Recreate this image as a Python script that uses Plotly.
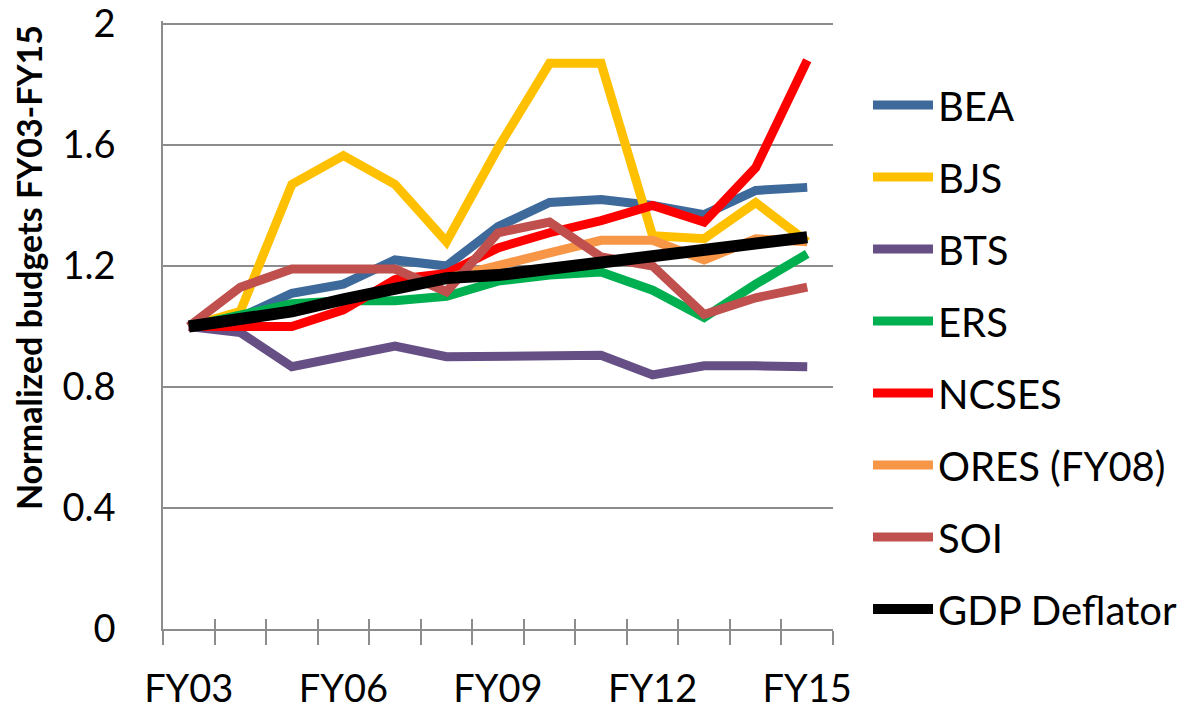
import plotly.graph_objects as go

categories = ["FY03", "FY04", "FY05", "FY06", "FY07", "FY08", "FY09",
              "FY10", "FY11", "FY12", "FY13", "FY14", "FY15"]
label_years = ["FY03", "FY06", "FY09", "FY12", "FY15"]

bea = [1.00, 1.03, 1.11, 1.14, 1.22, 1.20, 1.33, 1.41, 1.42, 1.40, 1.37, 1.45, 1.46]
bjs = [1.00, 1.05, 1.47, 1.565, 1.47, 1.28, 1.59, 1.87, 1.87, 1.30, 1.29, 1.41, 1.28]
bts = [1.00, 0.98, 0.867, 0.90, 0.935, 0.90, 0.90, 0.90, 0.905, 0.84, 0.87, 0.87, 0.867]
ers = [1.00, 1.04, 1.075, 1.085, 1.085, 1.10, 1.15, 1.17, 1.18, 1.12, 1.03, 1.14, 1.24]
ncses = [1.00, 1.00, 1.00, 1.055, 1.155, 1.175, 1.26, 1.31, 1.35, 1.40, 1.345, 1.525, 1.88]
ores = [None, None, None, None, None, 1.16, 1.20, 1.245, 1.285, 1.285, 1.22, 1.29, 1.28]
soi = [1.00, 1.13, 1.19, 1.19, 1.19, 1.115, 1.31, 1.345, 1.23, 1.20, 1.04, 1.095, 1.13]
gdp = [1.00, 1.02, 1.05, 1.09, 1.13, 1.16, 1.17, 1.19, 1.21, 1.23, 1.25, 1.27, 1.295]

series = [
    ("BEA", bea, "#3D6A9A", 9),
    ("BJS", bjs, "#FFC000", 9),
    ("BTS", bts, "#664F85", 9),
    ("ERS", ers, "#00B050", 9),
    ("NCSES", ncses, "#FF0000", 9),
    ("ORES (FY08)", ores, "#F79646", 9),
    ("SOI", soi, "#C0504D", 9),
    ("GDP Deflator", gdp, "#000000", 12),
]

FONT = "Lato"
GRID = "#8C8C8C"
L, R, T, B = 163, 368, 20.5, 83.5
PW = 1201 - L - R
PH = 713 - T - B

xidx = list(range(len(categories)))
fig = go.Figure()
for name, vals, color, w in series:
    fig.add_trace(go.Scatter(
        x=xidx, y=vals, name=name, mode="lines",
        line=dict(color=color, width=w),
        legendgroup=name, connectgaps=False,
    ))

# dummy trace to activate the overlay axis (inside half of the cross ticks)
fig.add_trace(go.Scatter(x=[None], y=[None], xaxis="x2", showlegend=False,
                         hoverinfo="skip"))

boundaries = [i - 0.5 for i in range(len(categories) + 1)]
label_pos = [categories.index(c) for c in label_years]

fig.update_layout(
    width=1201, height=713,
    margin=dict(l=L, r=R, t=T, b=B, autoexpand=False),
    paper_bgcolor="white", plot_bgcolor="white",
    font=dict(family=FONT, size=38, color="black"),
    xaxis=dict(
        range=[-0.5, 12.5], tickmode="array",
        tickvals=label_pos, ticktext=label_years,
        ticks="", showgrid=False, zeroline=False, automargin=False,
        showline=True, linecolor=GRID, linewidth=1.5,
        ticklabelstandoff=26, ticklabeloverflow="allow",
        tickfont=dict(family=FONT, size=38, color="black"),
        minor=dict(tickmode="array", tickvals=boundaries, ticks="outside",
                   ticklen=14, tickwidth=1.5, tickcolor=GRID, showgrid=False),
    ),
    xaxis2=dict(
        overlaying="x", range=[-0.5, 12.5], tickmode="array",
        tickvals=boundaries, ticks="inside", ticklen=10, tickwidth=1.5,
        tickcolor=GRID, showticklabels=False, showgrid=False, automargin=False,
        zeroline=False, showline=False, side="bottom",
    ),
    yaxis=dict(
        range=[0, 2.01], tickmode="array", tickvals=[0, 0.4, 0.8, 1.2, 1.6, 2],
        ticktext=["0", "0.4", "0.8", "1.2", "1.6", "2"],
        showgrid=True, gridcolor=GRID, gridwidth=1.5, automargin=False,
        zeroline=False, showline=True, linecolor=GRID, linewidth=1.5,
        ticks="", ticklabelstandoff=38, ticklabeloverflow="allow",
        tickfont=dict(family=FONT, size=38, color="black"),
    ),
    legend=dict(
        x=(868 - L) / PW, xanchor="left",
        y=1 - 51.5 / PH, yanchor="top", yref="paper",
        font=dict(family=FONT, size=40, color="black"),
        bgcolor="rgba(0,0,0,0)", itemwidth=60,
        tracegroupgap=17, traceorder="grouped",
    ),
    showlegend=True,
    annotations=[dict(
        text="<b>Normalized budgets FY03-FY15</b>",
        xref="paper", yref="paper",
        x=(28 - L) / PW, y=(713 - B - 268) / PH,
        xanchor="center", yanchor="middle", textangle=-90,
        showarrow=False, font=dict(family=FONT, size=34, color="black"),
    )],
)

fig.write_html("out.html",
               config={"displayModeBar": False},
               post_script="document.body.style.margin='0';"
                           "document.body.style.padding='0';")
